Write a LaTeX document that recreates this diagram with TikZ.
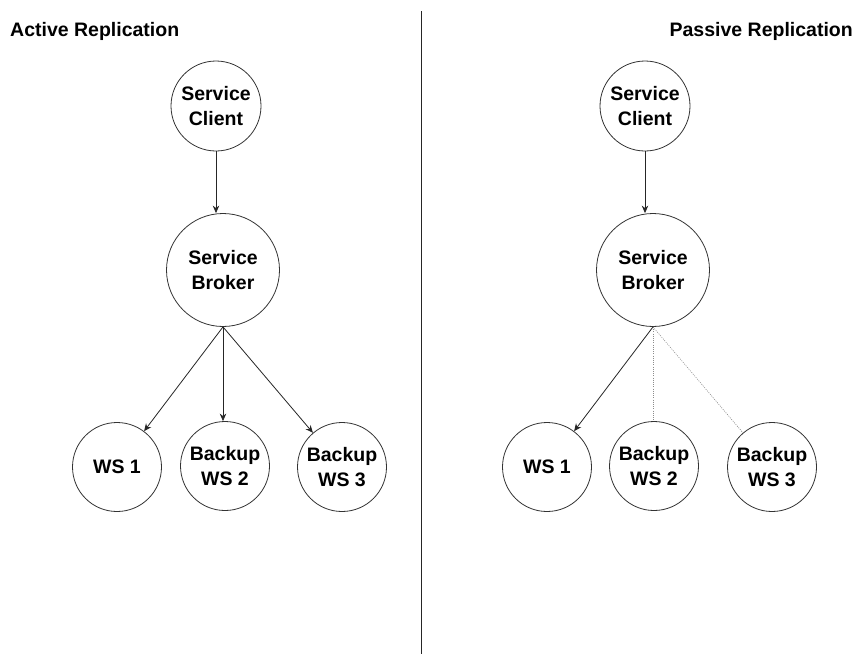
\documentclass[tikz,border=0pt]{standalone}
\usepackage{fontspec}
\setmainfont{Liberation Sans}
\usetikzlibrary{arrows.meta}
\begin{document}
\begin{tikzpicture}[x=1pt,y=-1pt,
  every node/.style={font=\bfseries\fontsize{19.5}{25.5}\selectfont},
  nd/.style={circle,draw=black!80,line width=0.8pt,inner sep=0pt,align=center,minimum size=89pt},
  big/.style={nd,minimum size=113pt},
  title/.style={anchor=base west,inner sep=0pt},
  arr/.style={draw=black!85,line width=0.8pt,-{Stealth[length=7.5pt,width=6.5pt]}},
  dot/.style={draw=black!45,line width=0.6pt,dash pattern=on 1pt off 1.2pt}]
\useasboundingbox (0,0) rectangle (858,654);
\fill[white] (0,0) rectangle (858,654);

% titles
\node[title] (tl) at (10,36) {Active Replication};
\node[title,anchor=base east] (tr) at (853,36) {Passive Replication};

% divider
\coordinate (dt) at (421,11);
\coordinate (db) at (421,654);
\draw[black!85,line width=1pt] (dt) -- (db);

% left tree
\node[nd,minimum size=90pt] (lsc) at (216,106) {Service\\Client};
\node[big] (lsb) at (223,270) {Service\\Broker};
\node[nd] (lw1) at (117,467) {WS 1};
\node[nd] (lw2) at (225,466) {Backup\\WS 2};
\node[nd] (lw3) at (342,467) {Backup\\WS 3};
\draw[arr] (lsc.south) -- (lsc.south |- lsb.north);
\draw[arr] (lsb.south) -- (lw1);
\draw[arr] (lsb.south) -- (lsb.south |- lw2.north);
\draw[arr] (lsb.south) -- (lw3);

% right tree
\node[nd,minimum size=90pt] (rsc) at (645,106) {Service\\Client};
\node[big] (rsb) at (653,270) {Service\\Broker};
\node[nd] (rw1) at (547,467) {WS 1};
\node[nd] (rw2) at (654,466) {Backup\\WS 2};
\node[nd] (rw3) at (772,467) {Backup\\WS 3};
\draw[arr] (rsc.south) -- (rsc.south |- rsb.north);
\draw[arr] (rsb.south) -- (rw1);
\draw[dot] (rsb.south) -- (rsb.south |- rw2.north);
\draw[dot] (rsb.south) -- (rw3);
\end{tikzpicture}
\end{document}
